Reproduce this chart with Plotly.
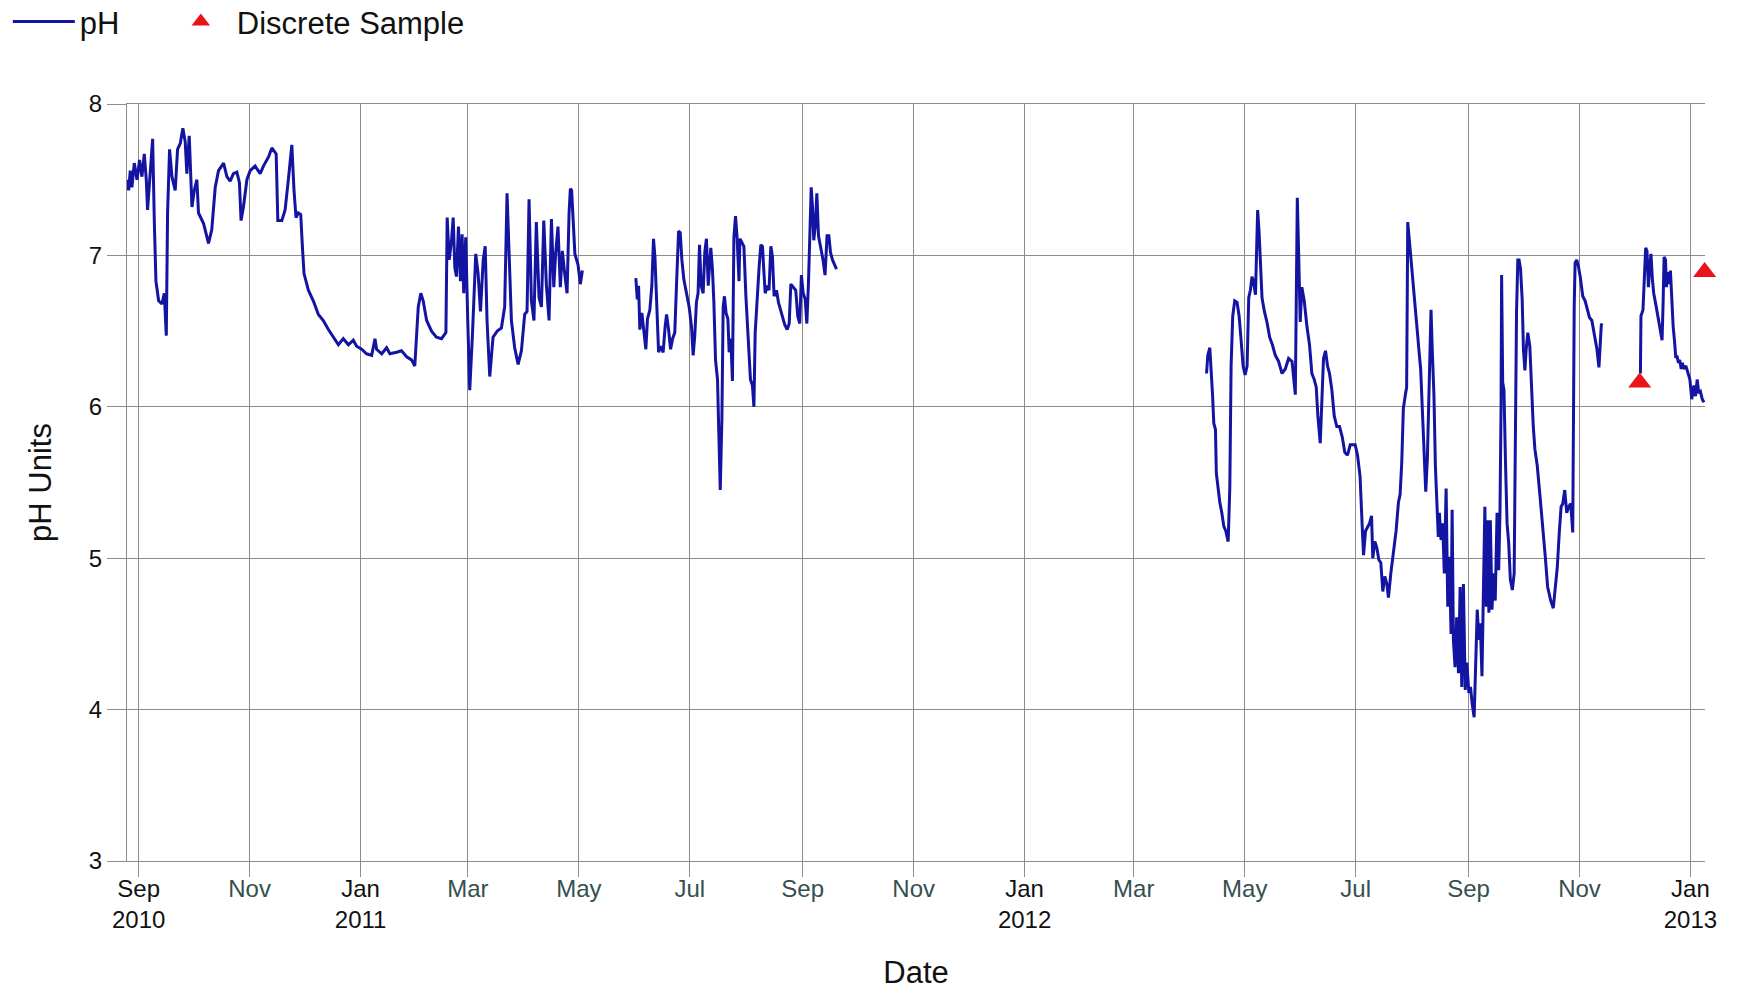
import pandas as pd
import plotly.graph_objects as go

# ---------------- data (day offsets from START, pH values) ----------------
START = "2010-09-01"

seg1_days = [-6.4, -5.5, -4.6, -3.7, -2.4, -0.9, 0.5, 1.8, 3.1, 4.2,
             4.9, 6.0, 7.7, 8.6, 9.5, 11.0, 12.8, 14.1, 15.2, 15.9,
             17.0, 18.3, 20.1, 21.4, 22.9, 24.3, 25.6, 26.5, 27.8, 29.3,
             30.6, 32.0, 32.9, 35.7, 38.4, 40.2, 42.1, 43.9, 46.7, 48.5,
             50.3, 52.1, 54.0, 55.4, 56.3, 57.6, 59.5, 61.3, 64.0, 66.8,
             68.6, 71.4, 73.2, 75.6, 76.5, 78.7, 80.5, 82.3, 83.2, 84.2,
             85.4, 86.5, 87.8, 89.1, 90.0, 90.9, 93.3, 96.0, 98.8, 101.5,
             104.3, 107.0, 109.8, 112.5, 115.3, 118.0, 119.8, 122.6, 125.3, 128.1,
             129.9, 130.8, 133.6, 136.3, 138.1, 141.8, 144.5, 147.3, 150.0, 151.8,
             153.7, 155.1, 156.4, 158.3, 161.0, 163.7, 166.5, 168.9, 169.6, 170.7,
             172.0, 172.9, 173.8, 174.7, 175.8, 176.9, 177.8, 178.7, 179.8, 180.9,
             182.0, 183.5, 185.3, 186.6, 187.9, 189.4, 190.5, 191.5, 193.0, 194.8,
             197.1, 199.4, 201.2, 202.5, 203.6, 204.9, 206.7, 208.6, 210.4, 212.2,
             213.5, 214.6, 215.9, 217.3, 218.6, 220.1, 221.4, 222.7, 224.1, 225.6,
             226.9, 228.2, 229.2, 230.5, 231.8, 232.9, 234.2, 235.5, 236.6, 237.3,
             238.0, 238.8, 239.8, 241.5, 242.8, 243.9]
seg1_ph = [7.50, 7.43, 7.56, 7.45, 7.61, 7.50, 7.63, 7.52, 7.67, 7.50,
           7.30, 7.50, 7.77, 7.23, 6.83, 6.70, 6.68, 6.75, 6.47, 7.28,
           7.70, 7.52, 7.43, 7.70, 7.74, 7.84, 7.75, 7.54, 7.79, 7.32,
           7.43, 7.50, 7.28, 7.21, 7.08, 7.17, 7.45, 7.56, 7.61, 7.52,
           7.49, 7.54, 7.55, 7.48, 7.23, 7.32, 7.50, 7.56, 7.59, 7.54,
           7.59, 7.65, 7.71, 7.67, 7.23, 7.23, 7.30, 7.50, 7.61, 7.73,
           7.43, 7.25, 7.28, 7.27, 7.06, 6.88, 6.77, 6.70, 6.61, 6.57,
           6.51, 6.46, 6.41, 6.45, 6.41, 6.44, 6.40, 6.38, 6.35, 6.34,
           6.45, 6.38, 6.35, 6.39, 6.35, 6.36, 6.37, 6.33, 6.31, 6.27,
           6.66, 6.75, 6.70, 6.57, 6.50, 6.46, 6.45, 6.49, 7.25, 6.97,
           7.10, 7.25, 6.92, 6.86, 7.19, 6.83, 7.14, 6.75, 7.12, 6.57,
           6.11, 6.48, 7.01, 6.88, 6.63, 6.97, 7.06, 6.57, 6.20, 6.46,
           6.50, 6.52, 6.66, 7.41, 7.01, 6.57, 6.39, 6.28, 6.37, 6.61,
           6.63, 7.37, 6.70, 6.57, 7.22, 6.72, 6.66, 7.23, 6.81, 6.57,
           7.24, 6.79, 7.01, 7.19, 6.79, 7.03, 6.88, 6.75, 7.28, 7.44,
           7.43, 7.23, 7.01, 6.94, 6.81, 6.90]

seg2_days = [273.3, 274.1, 274.8, 275.5, 276.6, 277.7, 278.8, 279.7, 281.0, 282.1,
             283.0, 283.8, 284.7, 285.8, 286.9, 288.3, 289.4, 290.2, 291.3, 292.4,
             293.5, 294.7, 295.7, 296.8, 297.7, 298.6, 299.7, 301.2, 302.6, 303.9,
             304.8, 305.7, 306.6, 307.5, 308.3, 309.2, 310.3, 311.2, 312.1, 313.1,
             313.8, 314.5, 315.4, 316.2, 317.1, 318.2, 318.9, 319.7, 320.6, 321.3,
             322.0, 322.9, 323.9, 324.6, 325.5, 326.4, 327.2, 328.1, 329.0, 330.0,
             330.5, 331.6, 332.7, 333.8, 335.0, 336.3, 337.4, 338.2, 338.9, 340.0,
             341.1, 342.0, 342.9, 343.6, 344.4, 345.5, 346.5, 347.5, 348.4, 349.3,
             350.6, 351.7, 352.8, 353.9, 355.2, 356.5, 357.6, 358.5, 359.8, 361.2,
             362.3, 363.4, 364.3, 365.3, 366.4, 367.3, 368.2, 368.9, 369.7, 370.4,
             371.1, 371.9, 372.8, 373.7, 374.8, 376.2, 377.3, 378.4, 379.4, 380.3,
             381.4, 382.7, 383.6]
seg2_ph = [6.85, 6.71, 6.80, 6.51, 6.62, 6.51, 6.38, 6.58, 6.64, 6.80,
           7.11, 6.99, 6.66, 6.36, 6.40, 6.36, 6.53, 6.61, 6.51, 6.38,
           6.45, 6.49, 6.82, 7.16, 7.15, 6.97, 6.84, 6.75, 6.66, 6.53,
           6.34, 6.47, 6.69, 6.75, 7.07, 6.80, 6.75, 7.02, 7.11, 6.80,
           6.97, 7.05, 6.91, 6.69, 6.31, 6.18, 5.83, 5.45, 5.92, 6.66,
           6.73, 6.62, 6.58, 6.36, 6.45, 6.17, 7.12, 7.26, 7.11, 6.83,
           7.11, 7.08, 7.06, 6.73, 6.47, 6.18, 6.14, 6.00, 6.49, 6.75,
           6.93, 7.07, 7.06, 6.91, 6.75, 6.80, 6.77, 7.06, 6.99, 6.73,
           6.77, 6.69, 6.64, 6.58, 6.54, 6.51, 6.55, 6.81, 6.79, 6.77,
           6.60, 6.55, 6.87, 6.75, 6.71, 6.55, 6.82, 7.17, 7.45, 7.32,
           7.10, 7.19, 7.41, 7.13, 7.06, 6.97, 6.87, 7.13, 7.13, 7.02,
           6.97, 6.93, 6.91]

seg3_days = [587.0, 587.7, 588.8, 589.5, 590.3, 591.0, 591.9, 592.4, 593.4, 594.3,
             595.4, 596.5, 597.6, 598.9, 599.8, 600.5, 601.4, 602.5, 603.8, 604.9,
             606.0, 607.1, 608.2, 609.3, 610.2, 611.1, 612.0, 612.9, 613.9, 614.6,
             615.1, 615.9, 616.6, 617.5, 618.8, 620.2, 621.7, 623.2, 624.8, 626.6,
             628.5, 630.3, 632.1, 634.0, 635.8, 636.3, 636.9, 637.6, 638.5, 639.4,
             640.7, 642.2, 643.6, 644.9, 646.2, 647.3, 648.2, 649.5, 650.4, 651.3,
             652.4, 653.5, 654.6, 655.9, 657.2, 658.6, 660.1, 661.6, 663.0, 664.5,
             666.0, 667.4, 668.7, 670.0, 671.4, 672.5, 673.3, 674.4, 675.5, 676.6,
             677.7, 678.4, 679.5, 680.6, 681.7, 682.8, 683.9, 685.0, 686.1, 687.0,
             688.3, 689.7, 691.2, 692.5, 693.4, 694.3, 695.2, 696.3, 697.0, 697.6,
             698.5, 699.4, 700.3, 701.2, 702.1, 703.0, 704.0, 704.7, 705.6, 706.5,
             707.5, 708.4, 709.1, 709.8, 710.4, 711.1, 712.0, 712.8, 713.5, 714.4,
             715.0, 715.9, 716.8, 717.7, 718.7, 719.6, 720.5, 721.4, 722.0, 722.7,
             723.6, 724.5, 725.5, 726.4, 727.3, 728.2, 729.2, 730.1, 731.2, 732.1,
             733.0, 734.1, 734.9, 735.8, 736.7, 737.5, 738.4, 739.3, 740.0, 740.8,
             741.5, 742.2, 743.0, 743.9, 744.8, 745.7, 746.7, 747.6, 748.3, 748.9,
             749.2, 749.8, 750.5, 751.3, 752.2, 753.1, 754.0, 755.1, 756.1, 756.6,
             757.4, 758.1, 758.8, 759.6, 760.5, 761.2, 762.0, 762.7, 763.6, 764.7,
             765.6, 766.6, 767.5, 768.8, 770.3, 771.7, 773.2, 774.5, 776.2, 777.6,
             778.7, 779.8, 780.9, 781.9, 782.8, 783.9, 785.0, 786.1, 787.2, 788.3,
             789.1, 789.6, 790.5, 791.4, 792.4, 793.8, 795.1, 796.4, 797.5, 798.8,
             799.7, 800.7, 801.6, 802.7, 803.4, 804.0, 804.5]
seg3_ph = [6.22, 6.34, 6.39, 6.27, 6.08, 5.89, 5.85, 5.56, 5.44, 5.37,
           5.30, 5.21, 5.18, 5.11, 5.47, 6.27, 6.60, 6.70, 6.69, 6.60,
           6.44, 6.27, 6.21, 6.27, 6.72, 6.77, 6.86, 6.82, 6.74, 7.03,
           7.30, 7.15, 6.96, 6.72, 6.63, 6.56, 6.46, 6.41, 6.34, 6.30,
           6.22, 6.25, 6.32, 6.30, 6.08, 6.79, 7.38, 7.03, 6.56, 6.79,
           6.70, 6.53, 6.41, 6.22, 6.18, 6.13, 5.94, 5.76, 6.08, 6.32,
           6.37, 6.27, 6.22, 6.11, 5.94, 5.87, 5.87, 5.80, 5.70, 5.68,
           5.75, 5.75, 5.75, 5.68, 5.54, 5.23, 5.02, 5.18, 5.21, 5.23,
           5.28, 5.00, 5.11, 5.07, 4.99, 4.97, 4.78, 4.88, 4.83, 4.74,
           4.90, 5.04, 5.18, 5.37, 5.42, 5.63, 5.99, 6.08, 6.13, 7.22,
           7.10, 6.98, 6.89, 6.72, 6.65, 6.48, 6.34, 6.25, 5.99, 5.73,
           5.44, 5.66, 6.04, 6.51, 6.64, 6.37, 6.08, 5.61, 5.42, 5.14,
           5.30, 5.12, 5.23, 4.90, 5.46, 4.68, 5.01, 4.50, 5.32, 4.46,
           4.28, 4.61, 4.24, 4.81, 4.15, 4.83, 4.13, 4.31, 4.11, 4.15,
           4.04, 3.95, 4.28, 4.66, 4.46, 4.57, 4.22, 4.90, 5.34, 4.68,
           5.25, 4.64, 5.25, 4.66, 4.90, 4.72, 5.30, 4.92, 5.30, 6.00,
           6.87, 6.16, 6.11, 5.65, 5.23, 5.10, 4.86, 4.79, 4.90, 5.56,
           6.62, 6.97, 6.97, 6.91, 6.71, 6.38, 6.24, 6.38, 6.49, 6.40,
           6.13, 5.87, 5.72, 5.61, 5.41, 5.23, 5.01, 4.81, 4.72, 4.67,
           4.79, 4.94, 5.17, 5.34, 5.36, 5.45, 5.30, 5.34, 5.36, 5.17,
           6.66, 6.95, 6.97, 6.93, 6.86, 6.73, 6.70, 6.64, 6.59, 6.57,
           6.51, 6.44, 6.38, 6.26, 6.38, 6.54, 6.55]

seg4_days = [825.5, 825.8, 826.9, 827.7, 828.4, 829.1, 829.9, 830.6, 831.3, 832.1,
             832.8, 833.9, 835.0, 836.1, 837.4, 838.0, 838.5, 839.3, 839.8, 840.5,
             841.3, 842.0, 842.7, 843.5, 844.2, 844.9, 845.7, 846.4, 847.1, 847.9,
             848.6, 849.3, 850.5, 851.6, 852.7, 853.7, 854.9, 855.8, 856.7, 857.6,
             858.5, 859.5, 860.4]
seg4_ph = [6.22, 6.60, 6.64, 6.84, 7.05, 7.03, 6.79, 6.92, 7.01, 6.84,
           6.75, 6.68, 6.60, 6.53, 6.44, 6.70, 6.99, 6.97, 6.79, 6.89,
           6.81, 6.90, 6.68, 6.53, 6.44, 6.33, 6.33, 6.29, 6.31, 6.25,
           6.29, 6.25, 6.27, 6.22, 6.18, 6.05, 6.14, 6.07, 6.18, 6.09,
           6.10, 6.05, 6.03]

sample_days = [825.1, 860.8]
sample_ph = [6.16, 6.89]

tick_dates = ["2010-09-01", "2010-11-01", "2011-01-01", "2011-03-01", "2011-05-01",
              "2011-07-01", "2011-09-01", "2011-11-01", "2012-01-01", "2012-03-01",
              "2012-05-01", "2012-07-01", "2012-09-01", "2012-11-01", "2013-01-01"]
tick_months = ["Sep", "Nov", "Jan", "Mar", "May", "Jul", "Sep", "Nov", "Jan",
               "Mar", "May", "Jul", "Sep", "Nov", "Jan"]
tick_years = ["2010", "", "2011", "", "", "", "", "", "2012", "", "", "", "", "", "2013"]

x_range_days = [-6.4, 861.0]

# ---------------- build ----------------
t0 = pd.Timestamp(START)


def to_dates(days):
    return [t0 + pd.Timedelta(days=float(d)) for d in days]


xs, ys = [], []
for d_list, v_list in [(seg1_days, seg1_ph), (seg2_days, seg2_ph),
                       (seg3_days, seg3_ph), (seg4_days, seg4_ph)]:
    dd = to_dates(d_list)
    xs += dd
    ys += list(v_list)
    xs.append(dd[-1])
    ys.append(None)

ticktext = []
for m, yr in zip(tick_months, tick_years):
    if yr:
        ticktext.append(f"<span style='color:#111111'>{m}</span><br>"
                        f"<span style='color:#111111'>{yr}</span>")
    else:
        ticktext.append(m)

FONT = "Liberation Sans, Arial, sans-serif"
GRID = "#8c8c8c"

fig = go.Figure()
fig.add_trace(go.Scatter(
    x=xs, y=ys, mode="lines", name="pH", connectgaps=False,
    line=dict(color="#1414A2", width=3), legendwidth=80,
))
fig.add_trace(go.Scatter(
    x=to_dates(sample_days), y=sample_ph, mode="markers", name="Discrete Sample",
    marker=dict(symbol="triangle-up", size=20, color="#E8141A"),
    cliponaxis=False, legendwidth=260,
))

xr = to_dates(x_range_days)
fig.update_layout(
    width=1739, height=990,
    margin=dict(l=127, r=34, t=104, b=129),
    paper_bgcolor="white", plot_bgcolor="white",
    font=dict(family=FONT, color="#111111"),
    showlegend=True,
    legend=dict(
        orientation="h", xref="container", yref="container",
        x=0.0045, y=0.978, xanchor="left", yanchor="middle",
        font=dict(size=31, family=FONT, color="#111111"),
        bgcolor="rgba(0,0,0,0)", itemwidth=62,
    ),
    xaxis=dict(
        type="date", range=xr, automargin=False,
        tickmode="array", tickvals=tick_dates, ticktext=ticktext,
        tickfont=dict(size=24, family=FONT, color="#35504f"),
        ticks="outside", ticklen=15, tickcolor=GRID, tickwidth=1,
        ticklabelstandoff=-9,
        showgrid=True, gridcolor=GRID, gridwidth=1,
        showline=True, mirror=True, linecolor=GRID, linewidth=1,
        zeroline=False,
        title=dict(text="Date", font=dict(size=31, family=FONT, color="#111111"), standoff=31),
    ),
    yaxis=dict(
        range=[3, 8], tick0=3, dtick=1,
        tickfont=dict(size=24, family=FONT, color="#111111"),
        ticks="outside", ticklen=19, tickcolor=GRID, tickwidth=1,
        showgrid=True, gridcolor=GRID, gridwidth=1,
        showline=True, linecolor=GRID, linewidth=1,
        zeroline=False,
        title=dict(text="pH Units", font=dict(size=31, family=FONT, color="#111111"), standoff=27),
    ),
)

fig.write_html("out.html", config={"displayModeBar": False},
               post_script="document.body.style.margin='0';")
